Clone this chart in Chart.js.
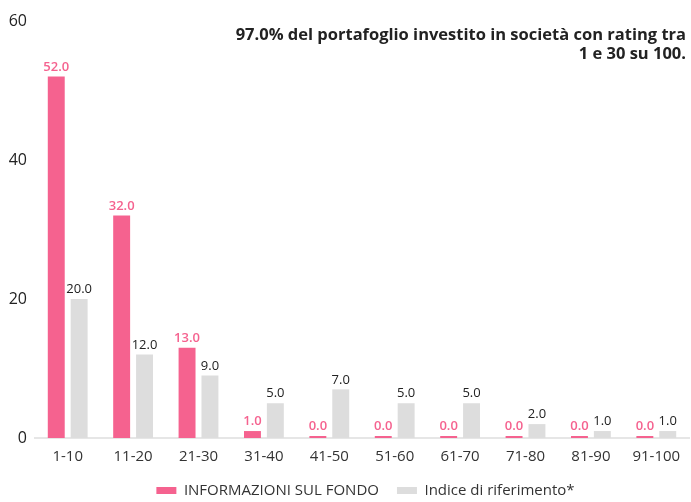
<!DOCTYPE html>
<html>
<head>
<meta charset="utf-8">
<script src="https://cdn.jsdelivr.net/npm/chart.js@4.4.0/dist/chart.umd.min.js"></script>
<style>
  html, body { margin: 0; padding: 0; background: #fff; }
  #wrap { width: 691px; height: 502px; }
</style>
</head>
<body>
<div id="wrap"><canvas id="ratingChart"></canvas></div>
<script>
var categories = ["1-10", "11-20", "21-30", "31-40", "41-50", "51-60", "61-70", "71-80", "81-90", "91-100"];
var fundValues = [52, 32, 13, 1, 0, 0, 0, 0, 0, 0];
var indexValues = [20, 12, 9, 5, 7, 5, 5, 2, 1, 1];
var yTicks = [0, 20, 40, 60];
var seriesNames = ["INFORMAZIONI SUL FONDO", "Indice di riferimento*"];
var titleLines = ["97.0% del portafoglio investito in società con rating tra", "1 e 30 su 100."];

var PINK = '#f5628f';
var GREY = '#dddddd';

// value labels above the bars
var valueLabels = {
  id: 'valueLabels',
  afterDatasetsDraw: function(chart) {
    var ctx = chart.ctx;
    ctx.save();
    ctx.textAlign = 'center';
    ctx.textBaseline = 'bottom';
    chart.data.datasets.forEach(function(ds, i) {
      var meta = chart.getDatasetMeta(i);
      meta.data.forEach(function(bar, j) {
        var v = ds.data[j];
        if (i === 0) {
          ctx.font = '600 13px "Open Sans"';
          ctx.fillStyle = PINK;
        } else {
          ctx.font = '13px "Open Sans"';
          ctx.fillStyle = '#222';
        }
        var y = Math.min(bar.y, chart.scales.y.getPixelForValue(0) - 2);
        ctx.fillText(v.toFixed(1), bar.x, y - 3);
      });
    });
    ctx.restore();
  }
};

// note in the top right corner
var cornerNote = {
  id: 'cornerNote',
  afterDraw: function(chart) {
    var ctx = chart.ctx;
    ctx.save();
    ctx.font = '700 16.5px "Open Sans"';
    ctx.fillStyle = '#222';
    ctx.textAlign = 'right';
    ctx.textBaseline = 'middle';
    titleLines.forEach(function(t, k) {
      ctx.fillText(t, 686, 35 + k * 19);
    });
    ctx.restore();
  }
};

// tighter legend box, shifted a bit to the right
var legendTweak = {
  id: 'legendTweak',
  beforeLayout: function(chart) {
    var lg = chart.legend;
    if (lg && !lg._tweaked) {
      var fit = lg.fit;
      lg.fit = function() {
        fit.call(this);
        this.height = 37;
      };
      lg._tweaked = true;
    }
  },
  afterLayout: function(chart) {
    chart.legend.left += 17;
    chart.legend.right += 17;
  }
};

var ctx = document.getElementById('ratingChart');
var chart = new Chart(ctx, {
  type: 'bar',
  data: {
    labels: categories,
    datasets: [
      {
        label: seriesNames[0],
        data: fundValues,
        backgroundColor: PINK,
        minBarLength: 2,
        categoryPercentage: 0.7,
        barPercentage: 0.74
      },
      {
        label: seriesNames[1],
        data: indexValues,
        backgroundColor: GREY,
        categoryPercentage: 0.7,
        barPercentage: 0.74
      }
    ]
  },
  options: {
    responsive: true,
    maintainAspectRatio: false,
    animation: false,
    layout: {
      padding: { left: 8, right: 2, top: 21, bottom: 0 }
    },
    plugins: {
      legend: {
        position: 'bottom',
        labels: {
          boxWidth: 20,
          boxHeight: 7,
          padding: 18,
          color: '#333',
          font: { family: 'Open Sans', size: 15 }
        }
      },
      tooltip: { enabled: false }
    },
    scales: {
      x: {
        grid: { display: false, drawTicks: false },
        border: { color: '#e6e6e6', width: 2 },
        afterFit: function(axis) {
          axis.height = 27;
        },
        ticks: {
          color: '#333',
          padding: 10,
          font: { family: 'Open Sans', size: 15 }
        }
      },
      y: {
        min: 0,
        max: 60,
        grid: { display: false, drawTicks: false },
        border: { display: false },
        afterBuildTicks: function(axis) {
          axis.ticks = yTicks.map(function(v) { return { value: v }; });
        },
        afterFit: function(axis) {
          axis.width = 27;
        },
        ticks: {
          color: '#222',
          padding: 8,
          font: { family: 'Open Sans', size: 16 }
        }
      }
    }
  },
  plugins: [valueLabels, cornerNote, legendTweak]
});
</script>
</body>
</html>
